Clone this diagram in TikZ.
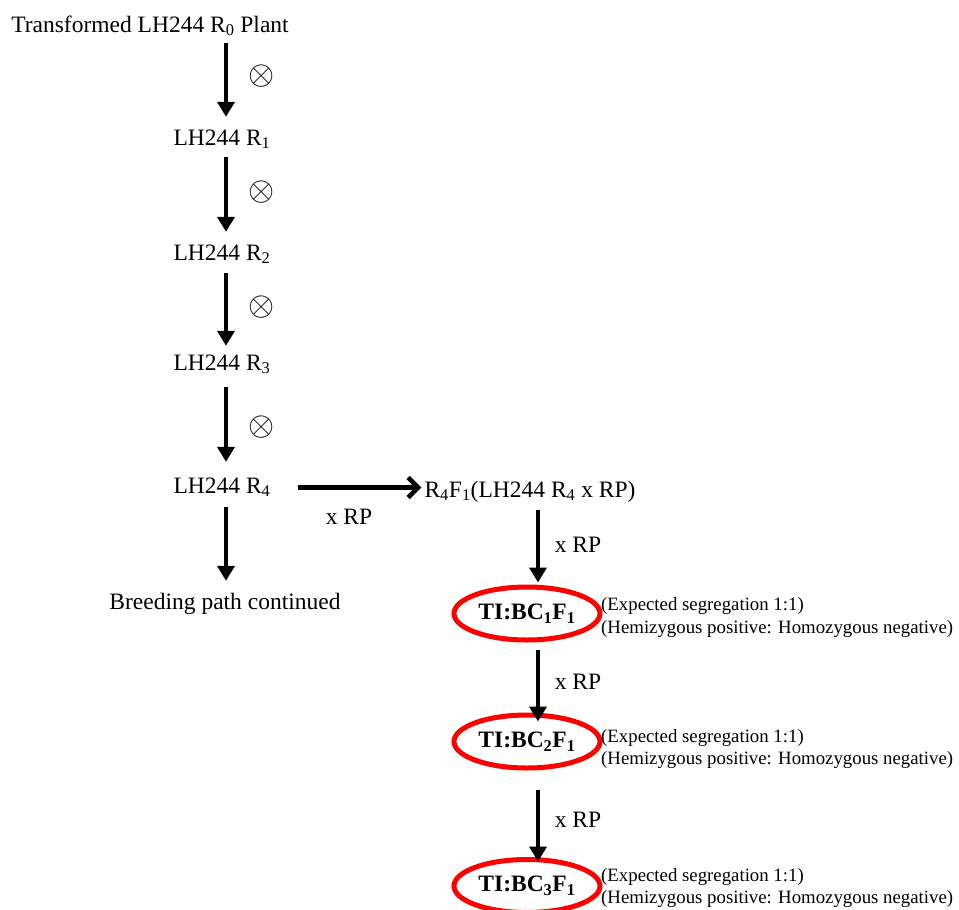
\documentclass[tikz,border=0pt]{standalone}
\usepackage{fontspec}
\usepackage{graphicx}
\setmainfont{Liberation Serif}
\usetikzlibrary{arrows.meta,shapes.geometric}
\begin{document}
\begin{tikzpicture}[x=1pt,y=1pt,
  txt/.style={inner sep=0pt, font=\fontsize{23.5}{28}\selectfont},
  chain/.style={txt, text height=16pt, text depth=5pt, anchor=base},
  lab/.style={inner sep=0pt, font=\fontsize{23.5}{28}\selectfont},
  sym/.style={inner sep=0pt, font=\fontsize{23.5}{28}\selectfont},
  side/.style={inner sep=0pt, anchor=west, align=left, font=\fontsize{18.8}{22}\selectfont},
  ell/.style={draw=red, line width=5pt, ellipse, minimum width=146pt, minimum height=53pt, inner sep=0pt, font=\fontsize{23.5}{28}\selectfont\bfseries},
  varr/.style={line width=4.6pt, -{Triangle[length=15pt,width=17pt]}},
  harr/.style={line width=4.6pt, -{Straight Barb[length=10pt,width=20pt]}}
]
\useasboundingbox (0,0) rectangle (959,-910);
\coordinate (col1) at (226,0);
\coordinate (col2) at (538,0);

\node[chain] (title) at (150,-32) {Transformed LH244 R\textsubscript{0} Plant};
\node[chain] (r1) at (222,-145) {LH244 R\textsubscript{1}};
\node[chain] (r2) at (222,-260) {LH244 R\textsubscript{2}};
\node[chain] (r3) at (222,-370) {LH244 R\textsubscript{3}};
\node[chain] (r4) at (222,-493) {LH244 R\textsubscript{4}};
\node[chain] (bpc) at (225,-609) {Breeding path continued};
\node[chain] (f1) at (530,-497) {R\textsubscript{4}F\textsubscript{1}(LH244 R\textsubscript{4} x RP)};

\node[ell] (e1) at (527,-613.5) {TI:BC\textsubscript{1}F\textsubscript{1}};
\node[ell] (e2) at (527,-741.5) {TI:BC\textsubscript{2}F\textsubscript{1}};
\node[ell] (e3) at (527,-886) {TI:BC\textsubscript{3}F\textsubscript{1}};

\node[side] (s1) at (601,-617.5) {(Expected segregation 1:1)\\(Hemizygous positive: Homozygous negative)};
\node[side] (s2) at (601,-748.5) {(Expected segregation 1:1)\\(Hemizygous positive: Homozygous negative)};
\node[side] (s3) at (601,-887.5) {(Expected segregation 1:1)\\(Hemizygous positive: Homozygous negative)};

\node[sym] (o1) at (262,-76) {\scalebox{1.35}{$\otimes$}};
\node[sym] (o2) at (262,-192) {\scalebox{1.35}{$\otimes$}};
\node[sym] (o3) at (262,-307) {\scalebox{1.35}{$\otimes$}};
\node[sym] (o4) at (262,-427) {\scalebox{1.35}{$\otimes$}};

\node[lab] (xh) at (349,-517) {x RP};
\node[lab] (x1) at (578,-545) {x RP};
\node[lab] (x2) at (578,-682) {x RP};
\node[lab] (x3) at (578,-820) {x RP};

\draw[varr, shorten <=6pt, shorten >=12pt] (title.south -| col1) -- (r1.north -| col1);
\draw[varr, shorten <=7pt, shorten >=12pt] (r1.south -| col1) -- (r2.north -| col1);
\draw[varr, shorten <=8pt, shorten >=8pt] (r2.south -| col1) -- (r3.north -| col1);
\draw[varr, shorten <=12pt, shorten >=15pt] (r3.south -| col1) -- (r4.north -| col1);
\draw[varr, shorten <=9pt, shorten >=12pt] (r4.south -| col1) -- (bpc.north -| col1);

\draw[harr, shorten <=27pt, shorten >=3pt] (r4.east) -- (r4.east -| f1.west);

\draw[varr, shorten <=8pt, shorten >=2pt] (f1.south -| col2) -- (e1.north -| col2);
\draw[varr, shorten <=7pt, shorten >=-9pt] (e1.south -| col2) -- (e2.north -| col2);
\draw[varr, shorten <=19pt, shorten >=-4.5pt] (e2.south -| col2) -- (e3.north -| col2);
\end{tikzpicture}
\end{document}
